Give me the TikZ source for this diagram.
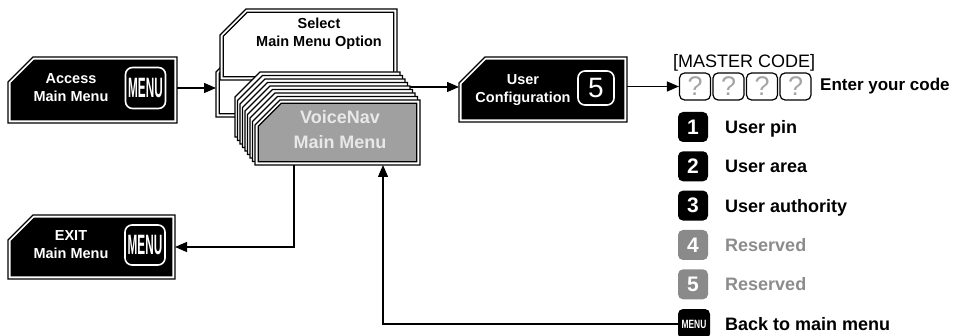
\documentclass[tikz,border=0pt]{standalone}
\usepackage{fontspec}
\setmainfont{Liberation Sans}
\usetikzlibrary{calc,arrows.meta}
\definecolor{vgray}{RGB}{160,160,160}
\definecolor{vtext}{RGB}{232,232,232}
\definecolor{igray}{RGB}{138,138,138}
\definecolor{tgray}{RGB}{140,140,140}
\definecolor{qgray}{RGB}{165,165,165}
\newcommand\dblbox[3]{%
  \draw[frame,fill=white] ($(#1.north west)+(0,#3)$) -- ($(#1.north west)+(#3,0)$) -- (#1.north east) -- (#1.south east) -- (#1.south west) -- cycle;
  \draw[frame,fill=#2] ($(#1.north west)+(3.2,#3+1.3)$) -- ($(#1.north west)+(#3+1.3,3.2)$) -- ($(#1.north east)+(-3.2,3.2)$) -- ($(#1.south east)+(-3.2,-3.2)$) -- ($(#1.south west)+(3.2,-3.2)$) -- cycle;
}
\newcommand\menutxt[2]{\scalebox{#2}[1]{\fontsize{#1}{#1}\selectfont\bfseries MENU}}
\begin{document}
\begin{tikzpicture}[x=1pt,y=-1pt,
  place/.style={inner sep=0,outer sep=0,minimum width=#1},
  frame/.style={draw=black,line width=1.3pt},
  arr/.style={line width=1.3pt,-{Triangle[length=12pt,width=10pt]}},
  wtxt/.style={text=white,align=center,font=\bfseries\fontsize{14.5}{18}\selectfont},
  icon/.style={fill=black,draw=white,line width=1.6pt,rounded corners=7pt,inner sep=0},
  numicon/.style={fill=#1,rounded corners=5pt,minimum width=30,minimum height=30,inner sep=0,text=white,font=\bfseries\fontsize{21}{21}\selectfont},
  qbox/.style={draw=black,line width=1.2pt,rounded corners=5pt,minimum width=31,minimum height=27,inner sep=0,text=qgray,font=\fontsize{27}{27}\selectfont},
  lbl/.style={anchor=base west,inner sep=0,font=\bfseries\fontsize{18}{18}\selectfont}]
\useasboundingbox (0,0) rectangle (960,336);

% placeholder nodes for boxes
\node[place=169,minimum height=66] (access) at (92.5,90) {};
\node[place=177,minimum height=71] (select) at (308.5,44.5) {};
\node[place=177,minimum height=71] (selshadow) at (304.5,81.5) {};
\node[place=165,minimum height=65] (voice) at (337.5,132.5) {};
\node[place=168,minimum height=65] (user) at (543,89.5) {};
\node[place=167,minimum height=64] (exit) at (91.5,247) {};

% Access Main Menu
\dblbox{access}{black}{25}
\node[icon,minimum width=40,minimum height=41] (accessmenu) at (145.5,88) {\textcolor{white}{\menutxt{28}{0.42}}};
\node[wtxt] (accesstxt) at (71,88) {Access\\Main Menu};

% Select Main Menu Option (with shadow)
\dblbox{selshadow}{white}{26}
\dblbox{select}{white}{26}
\node[align=center,font=\bfseries\fontsize{14.5}{18}\selectfont] (selecttxt) at (319,34) {Select\\Main Menu Option};

% arrow stack -> user configuration (drawn behind the stack)
\coordinate (stackout) at (400,87);
\draw[arr] (stackout) -- (user.west |- stackout);

% VoiceNav stack
\foreach \i in {8,...,1}{
  \pgfmathsetmacro\dx{-2.5*\i}
  \pgfmathsetmacro\dy{-3.5*\i}
  \draw[draw=black,line width=1.1pt,fill=white]
    ($(voice.north west)+(\dx,\dy+25)$) -- ($(voice.north west)+(\dx+25,\dy)$) --
    ($(voice.north east)+(\dx,\dy)$) -- ($(voice.south east)+(\dx,\dy)$) --
    ($(voice.south west)+(\dx,\dy)$) -- cycle;
}
\dblbox{voice}{vgray}{25}
\node[text=vtext,align=center,font=\bfseries\fontsize{18}{25}\selectfont] (voicetxt) at (340,130) {VoiceNav\\Main Menu};

% User Configuration
\dblbox{user}{black}{26}
\node[icon,minimum width=36,minimum height=34] (fiveicon) at (596,88) {\textcolor{white}{\fontsize{28}{28}\selectfont 5}};
\node[wtxt] (usertxt) at (523,90.5) {User\\Configuration};

% EXIT Main Menu
\dblbox{exit}{black}{25}
\node[icon,minimum width=40,minimum height=40] (exitmenu) at (145,245) {\textcolor{white}{\menutxt{28}{0.42}}};
\node[wtxt] (exittxt) at (71,244.5) {EXIT\\Main Menu};

% Master code
\node[anchor=base west,inner sep=0,font=\fontsize{18}{18}\selectfont] (mastertxt) at (673,68) {[MASTER CODE]};
\node[qbox] (q1) at (695,86.5) {?};
\node[qbox] (q2) at (728.5,86.5) {?};
\node[qbox] (q3) at (762,86.5) {?};
\node[qbox] (q4) at (795.5,86.5) {?};
\node[anchor=west,inner sep=0,font=\bfseries\fontsize{17}{17}\selectfont] (entertxt) at (820,86.5) {Enter your code};

% option list
\node[numicon=black] (n1) at (693,127) {1};
\node[numicon=black] (n2) at (693,166.3) {2};
\node[numicon=black] (n3) at (693,205.6) {3};
\node[numicon=igray] (n4) at (693,245) {4};
\node[numicon=igray] (n5) at (693,284.3) {5};
\node[fill=black,rounded corners=5pt,minimum width=32,minimum height=30,inner sep=0] (backicon) at (694,324) {\textcolor{white}{\menutxt{12}{0.7}}};
\node[lbl] (l1) at (725,133.5) {User pin};
\node[lbl] (l2) at (725,172.8) {User area};
\node[lbl] (l3) at (725,212.1) {User authority};
\node[lbl,text=tgray] (l4) at (725,251.5) {Reserved};
\node[lbl,text=tgray] (l5) at (725,290.8) {Reserved};
\node[lbl] (l6) at (725,330.5) {Back to main menu};

% connectors
\draw[arr] (access.east |- accessmenu.center) -- (selshadow.west |- accessmenu.center);
\draw[arr] (user.east |- q1) -- (q1.west);
\coordinate (dn) at (294,247);
\draw[arr] (dn |- voice.south) -- (dn) -- (exit.east |- dn);
\coordinate (up) at (383,324);
\draw[arr] (backicon.west) -- (up) -- (up |- voice.south);
\end{tikzpicture}
\end{document}
